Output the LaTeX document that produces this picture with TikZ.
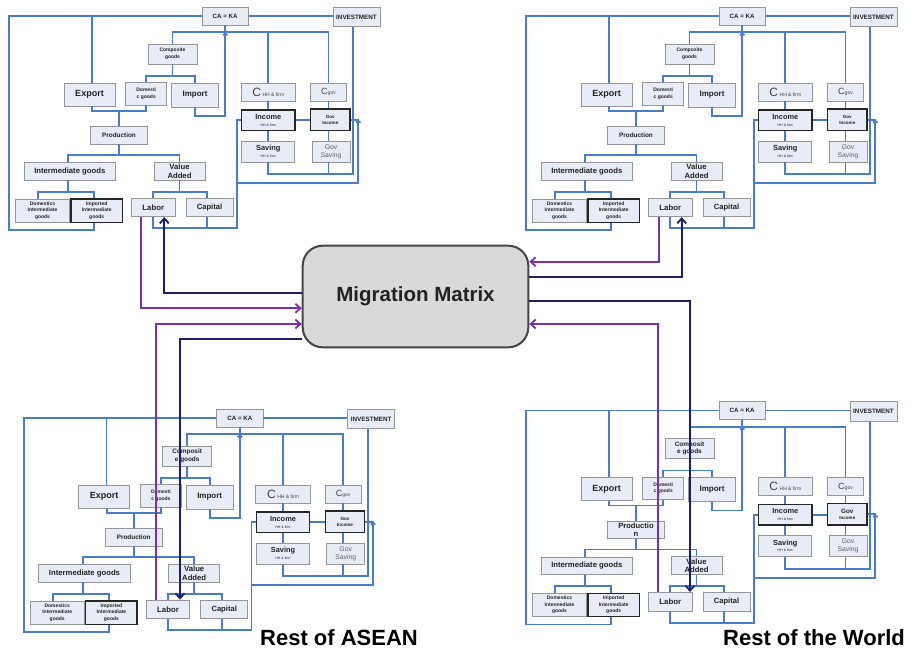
\documentclass[tikz,border=0pt]{standalone}
\usepackage{fontspec}
\setmainfont{Liberation Sans}
\usetikzlibrary{arrows.meta}

\definecolor{boxfill}{HTML}{E8ECF6}
\definecolor{boxedge}{HTML}{969696}
\definecolor{wireblue}{HTML}{4A7DC9}
\definecolor{flowin}{HTML}{7A30A6}
\definecolor{flowout}{HTML}{1E1E6A}
\definecolor{inktext}{HTML}{222222}
\definecolor{softtext}{HTML}{606060}
\definecolor{matfill}{HTML}{D9D9D9}
\definecolor{matedge}{HTML}{454545}

\newcommand\fsz[2]{\fontsize{#1}{#2}\selectfont}

\tikzset{
  ebox/.style={draw=boxedge, line width=0.8pt, fill=boxfill, inner sep=0pt,
    align=center, text=inktext, font=\bfseries},
  kbox/.style={ebox, draw=black!85, line width=1.4pt},
  wire/.style={draw=wireblue, line width=1.7pt},
  smalltip/.style={-{Straight Barb[length=1.8pt,width=4.5pt]}},
  flowinto/.style={draw=flowin, line width=1.8pt, -{Straight Barb[length=5pt,width=9pt]}},
  flowfrom/.style={draw=flowout, line width=1.8pt, -{Straight Barb[length=5pt,width=9pt]}},
}

% One regional economy: #1 name prefix, #2/#3 offset,
% #4/#5 composite font and label, #6/#7 production font and label,
% #8 government income label
\newcommand\ecoblock[8]{%
\begin{scope}[shift={(#2,#3)}]
  % boxes
  \node[ebox, minimum width=46.3pt, minimum height=17.7pt, font=\bfseries\fsz{6.2}{7}] (#1ca) at (225.2,16.2) {CA = KA};
  \node[ebox, minimum width=47pt, minimum height=19.4pt, font=\bfseries\fsz{6.3}{7}] (#1inv) at (356.5,17) {INVESTMENT};
  \node[ebox, minimum width=49pt, minimum height=20pt, font=#4] (#1comp) at (172.5,54) {#5};
  \node[ebox, minimum width=51pt, minimum height=23pt, font=\bfseries\fsz{9}{10}] (#1exp) at (89.5,94.5) {Export};
  \node[ebox, minimum width=41pt, minimum height=22.3pt, font=\bfseries\fsz{5}{6.7}] (#1dom) at (146.2,93.8) {Domesti\\c goods};
  \node[ebox, minimum width=46.6pt, minimum height=24pt, font=\bfseries\fsz{8}{9}] (#1imp) at (195,95) {Import};
  \node[ebox, minimum width=54.3pt, minimum height=18pt, font=\mdseries, text=inktext!85] (#1chh) at (268.3,92)
    {{\fsz{12}{12}C}\,{\fsz{5}{5}HH \& firm}};
  \node[ebox, minimum width=36pt, minimum height=18pt, font=\mdseries, text=inktext!85] (#1cgov) at (328.5,92)
    {{\fsz{9}{9}C}{\fsz{5}{5}gov}};
  \node[kbox, minimum width=53.3pt, minimum height=20.7pt, font=\bfseries\fsz{7.4}{8}] (#1inc) at (268.3,120.3)
    {Income\\[-1.5pt]{\mdseries\fsz{3.5}{4}HH \& firm}};
  \node[kbox, minimum width=39.3pt, minimum height=21.7pt, font=\bfseries\fsz{4.6}{6.2}] (#1ginc) at (330.3,119.8) {#8};
  \node[ebox, minimum width=53pt, minimum height=21pt, font=\bfseries\fsz{7.4}{8}] (#1sav) at (268.3,151.5)
    {Saving\\[-1.5pt]{\mdseries\fsz{3.5}{4}HH \& firm}};
  \node[ebox, minimum width=38pt, minimum height=21pt, font=\mdseries\fsz{6.8}{8.3}, text=softtext] (#1gsav) at (331,151.5) {Gov\\Saving};
  \node[ebox, minimum width=56.6pt, minimum height=17.3pt, font=#6] (#1prod) at (119,135.3) {#7};
  \node[ebox, minimum width=91.7pt, minimum height=17.3pt, font=\bfseries\fsz{7.7}{9}] (#1inter) at (69.8,171.3) {Intermediate goods};
  \node[ebox, minimum width=51pt, minimum height=17.7pt, font=\bfseries\fsz{7.7}{8.7}] (#1va) at (179.5,171.2) {Value\\Added};
  \node[ebox, minimum width=53.6pt, minimum height=23.3pt, font=\bfseries\fsz{5}{6.5}] (#1domi) at (42.5,210.7) {Domestics\\Intermediate\\goods};
  \node[kbox, minimum width=51.3pt, minimum height=23.3pt, font=\bfseries\fsz{5}{6.5}] (#1impi) at (96.7,210.7) {Imported\\Intermediate\\goods};
  \node[ebox, minimum width=43.3pt, minimum height=18.7pt, font=\bfseries\fsz{7.8}{9}] (#1lab) at (153.3,207.3) {Labor};
  \node[ebox, minimum width=47pt, minimum height=18.7pt, font=\bfseries\fsz{7.6}{9}] (#1cap) at (209.5,207.3) {Capital};
  % current account: exports and imported intermediates
  \draw[wire] (#1ca.west) -| (9.3,230) -| ([xshift=-2.7pt]#1impi.south);
  \draw[wire] ([xshift=2.2pt]#1exp.north) -- (91.7,16.2);
  \draw[wire] (#1ca.east) -- (#1inv.west |- #1ca.east);
  % demand bus below CA = KA
  \draw[wire] (#1comp.north) |- (#1cgov.north |- 0,32.3) -- (#1cgov.north);
  \draw[wire] (#1chh.north) -- (#1chh.north |- 0,32.3);
  \draw[wire] (#1ca.south) -- (#1ca.south |- 0,32.3);
  \draw[wire,smalltip] (#1imp.south) |- (225.2,116) -- (225.2,32.3);
  % composite goods split
  \draw[wire] (#1comp.south) -- (#1comp.south |- 0,76);
  \draw[wire] (#1dom.north) |- (#1imp.north |- 0,76) -- (#1imp.north);
  % production tree
  \draw[wire] ([xshift=2.5pt]#1exp.south) |- (#1dom.south |- 0,111) -- (#1dom.south);
  \draw[wire] (#1prod.north) -- (#1prod.north |- 0,111);
  \draw[wire] ([xshift=-1.5pt]#1inter.north) |- (#1va.north |- 0,155) -- (#1va.north);
  \draw[wire] (#1prod.south) -- (#1prod.south |- 0,155);
  \draw[wire] ([xshift=-4.2pt]#1domi.north) |- (94,191.7) -- ([xshift=-2.7pt]#1impi.north);
  \draw[wire] ([xshift=-1.5pt]#1inter.south) -- (68.3,191.7);
  \draw[wire] (#1lab.north) |- (207.3,191.7) -- ([xshift=-2.2pt]#1cap.north);
  \draw[wire] (#1va.south) -- (#1va.south |- 0,191.7);
  % factor income to households and government
  \draw[wire] (#1lab.south) |- (236.7,228.3) |- (#1inc.west);
  \draw[wire] ([xshift=-2.2pt]#1cap.south) -- (207.3,228.3);
  \draw[wire,smalltip] (236.7,183.3) -| (#1ginc.east -| 358.3,0);
  \draw[wire] (#1ginc.east) -- ++(8.3,0);
  \draw[wire] (#1inc.east) -- (#1ginc.west |- #1inc.east);
  \draw[wire] (#1chh.south) -- (#1inc.north);
  \draw[wire] (#1inc.south) -- (#1sav.north);
  \draw[wire] (#1cgov.south) -- (#1cgov.south |- #1ginc.north);
  \draw[wire] (#1cgov.south |- #1ginc.south) -- (#1cgov.south |- #1gsav.north);
  % savings to investment
  \draw[wire] (#1sav.south) |- (353.3,174.3) -- (#1inv.south -| 353.3,0);
  \draw[wire] (#1cgov.south |- #1gsav.south) -- (#1cgov.south |- 0,174.3);
\end{scope}}

\begin{document}
\begin{tikzpicture}[x=1pt, y=-1pt]
  \useasboundingbox (0,0) rectangle (913,648);
  \fill[white] (0,0) rectangle (913,648);

  \ecoblock{tl}{0}{0}{\bfseries\fsz{5}{6.7}}{Composite\\goods}{\bfseries\fsz{6.4}{7.5}}{Production}{Gov\\Income}
  \ecoblock{tr}{517}{0}{\bfseries\fsz{5}{6.7}}{Composite\\goods}{\bfseries\fsz{6.4}{7.5}}{Production}{Gov\\Income}
  \ecoblock{bl}{14.7}{402}{\bfseries\fsz{6.4}{7.5}}{Composit\\e goods}{\bfseries\fsz{6.4}{7.5}}{Production}{Gov\\Income}
  \ecoblock{br}{517}{394.4}{\bfseries\fsz{6.4}{7.5}}{Composit\\e goods}{\bfseries\fsz{7.6}{8.6}}{Productio\\n}{{\fsz{6.3}{7}Gov}\\Income}

  % the migration matrix in the centre
  \node[draw=matedge, line width=2pt, fill=matfill, rounded corners=20pt,
        minimum width=225.6pt, minimum height=101.6pt, text=inktext,
        font=\bfseries\fsz{20.5}{24}] (mm) at (415.5,296.5) {Migration Matrix};

  % labour flows
  \draw[flowinto] ([xshift=-12.3pt]tllab.south) |- (mm.west |- 0,308.3);
  \draw[flowfrom] (mm.west |- 0,292.7) -| ([xshift=11pt]tllab.south);
  \draw[flowinto] ([xshift=-12pt]bllab.north) |- (mm.west |- 0,324);
  \draw[flowfrom] (mm.west |- 0,339.3) -| ([xshift=12pt]bllab.north);
  \draw[flowinto] ([xshift=-11.3pt]trlab.south) |- (mm.east |- 0,261.7);
  \draw[flowfrom] (mm.east |- 0,277.3) -| ([xshift=11.4pt]trlab.south);
  \draw[flowfrom] (mm.east |- 0,300.7) -| ([xshift=19.7pt]brlab.north);
  \draw[flowinto] ([xshift=-12pt]brlab.north) |- (mm.east |- 0,324);

  % region captions
  \node[anchor=base west, inner sep=0pt, text=black, font=\bfseries\fsz{22}{26}] (asean) at (260,645) {Rest of ASEAN};
  \node[anchor=base west, inner sep=0pt, text=black, font=\bfseries\fsz{22}{26}] (world) at (723,645) {Rest of the World};
\end{tikzpicture}
\end{document}
